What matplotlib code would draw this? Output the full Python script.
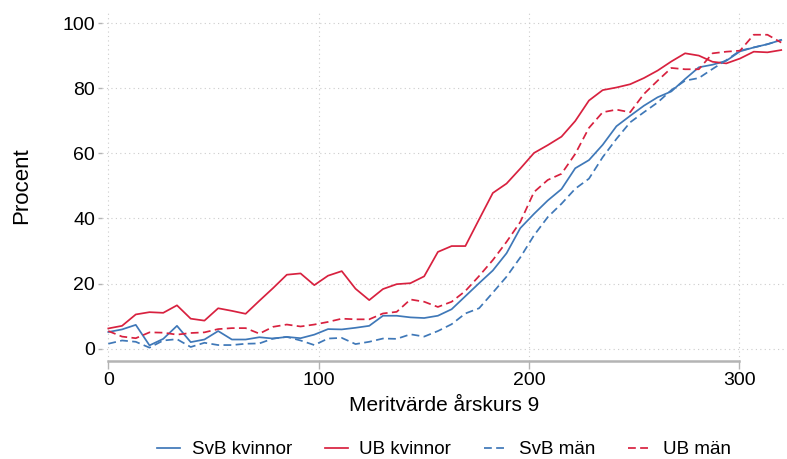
import numpy as np
import matplotlib
matplotlib.use("Agg")
import matplotlib.pyplot as plt

plt.rcParams['font.family'] = ['Liberation Sans', 'DejaVu Sans']

# meritvärde bins, 50 points from 0 to 320
merit = np.linspace(0, 320, 50)

svb_kvinnor = [5.1, 5.9, 7.3, 1.0, 3.0, 7.0, 2.0, 2.8, 5.4, 2.8,
               2.8, 3.5, 3.1, 3.6, 3.2, 4.3, 6.0, 5.9, 6.4, 7.0,
               10.1, 10.1, 9.6, 9.4, 10.1, 12.1, 16.1, 20.1, 24.0, 29.3,
               37.0, 41.4, 45.5, 49.0, 55.4, 57.9, 62.6, 68.3, 71.5, 74.6,
               77.2, 79.0, 82.8, 86.4, 87.2, 88.4, 91.3, 92.5, 93.5, 94.8]
ub_kvinnor = [6.2, 7.0, 10.5, 11.2, 11.0, 13.3, 9.2, 8.6, 12.4, 11.6,
              10.7, 14.7, 18.6, 22.7, 23.1, 19.5, 22.4, 23.8, 18.4, 14.9,
              18.3, 19.8, 20.1, 22.2, 29.7, 31.5, 31.5, 39.7, 47.8, 50.7,
              55.3, 60.1, 62.5, 65.1, 69.9, 76.2, 79.4, 80.2, 81.2, 83.1,
              85.4, 88.2, 90.7, 90.0, 88.1, 87.6, 89.1, 91.2, 91.0, 91.7]
svb_man = [1.5, 2.5, 2.1, 0.3, 2.5, 2.9, 0.5, 1.8, 1.1, 1.1,
           1.5, 1.6, 3.1, 3.6, 2.5, 1.1, 3.1, 3.3, 1.4, 2.1,
           3.1, 3.0, 4.4, 3.7, 5.4, 7.5, 10.8, 12.4, 17.2, 22.1,
           28.0, 34.8, 40.4, 44.5, 49.1, 52.2, 58.8, 64.4, 69.5, 72.6,
           75.6, 79.4, 82.3, 83.1, 85.9, 88.6, 91.5, 92.5, 93.5, 94.8]
ub_man = [5.4, 3.7, 3.2, 5.0, 4.9, 4.3, 4.8, 5.0, 6.0, 6.3,
          6.3, 4.6, 6.7, 7.4, 6.8, 7.4, 8.2, 9.2, 9.0, 9.0,
          10.8, 11.3, 15.1, 14.4, 12.8, 14.4, 17.7, 22.3, 27.2, 32.8,
          38.9, 48.1, 51.8, 53.7, 59.8, 67.8, 72.6, 73.4, 72.6, 78.2,
          82.3, 86.2, 85.8, 85.8, 90.7, 91.2, 91.5, 96.4, 96.4, 94.0]

blue = '#3f78b8'
red = '#d8213f'
grey = '#b4b4b4'

fig = plt.figure(figsize=(7.87, 4.59), dpi=100)
ax = fig.add_axes([0.1296, 0.2135, 0.8684, 0.7647])

dash = (0, (4.5, 2.5))
ax.plot(merit, svb_kvinnor, color=blue, lw=1.25, label='SvB kvinnor')
ax.plot(merit, ub_kvinnor, color=red, lw=1.25, label='UB kvinnor')
ax.plot(merit, svb_man, color=blue, lw=1.25, linestyle=dash, label='SvB män')
ax.plot(merit, ub_man, color=red, lw=1.25, linestyle=dash, label='UB män')

ax.set_xlim(-3, 322)
ax.set_ylim(-3.8, 104)
ax.set_xticks([0, 100, 200, 300])
ax.set_yticks([0, 20, 40, 60, 80, 100])
ax.grid(True, color='#cccccc', linestyle=(0, (1, 3)), lw=0.8)
ax.set_axisbelow(True)

for side in ['top', 'right', 'left']:
    ax.spines[side].set_visible(False)
ax.spines['bottom'].set_bounds(0, 300)
ax.spines['bottom'].set_color(grey)
ax.spines['bottom'].set_linewidth(1.8)
ax.tick_params(axis='x', colors=grey, labelcolor='black', length=6, width=1,
               labelsize=14, pad=2)
ax.tick_params(axis='y', colors=grey, labelcolor='black', length=3, width=1,
               labelsize=14, pad=2)

ax.set_xlabel('Meritvärde årskurs 9', fontsize=15, labelpad=5)
ax.set_ylabel('Procent', fontsize=16, labelpad=22)

ax.legend(loc='center', bbox_to_anchor=(0.5, -0.253), ncol=4, frameon=False,
          fontsize=13.5, handlelength=1.25, columnspacing=1.75,
          handletextpad=0.6, borderpad=0)

fig.savefig('out.png', dpi=100)
